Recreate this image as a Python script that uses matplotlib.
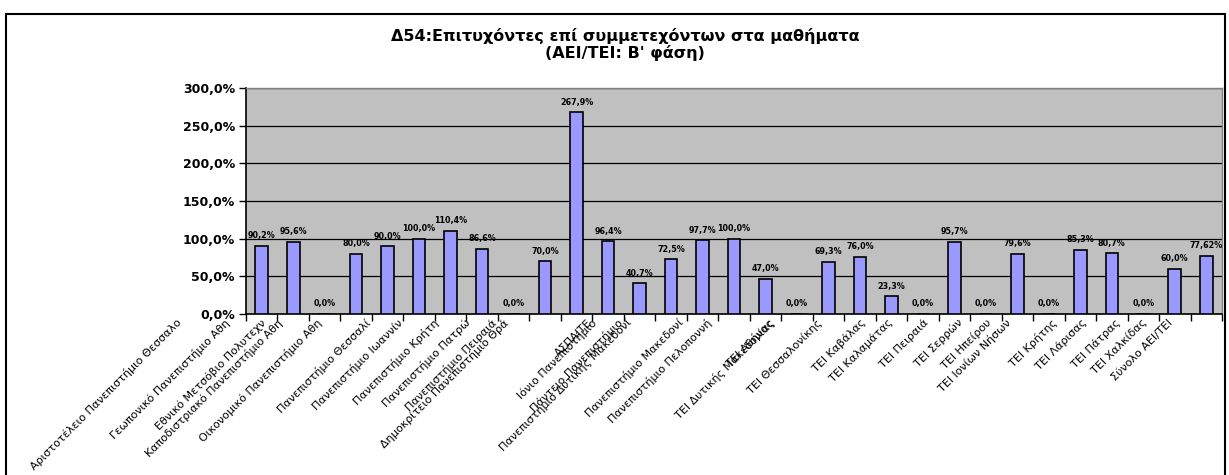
import matplotlib
matplotlib.use("Agg")
import matplotlib.pyplot as plt
import numpy as np
from matplotlib.patches import Rectangle
from matplotlib.ticker import FuncFormatter, MultipleLocator

# ιδρύματα (όπως φαίνονται στον άξονα)
categories = [
    "Αριστοτέλειο Πανεπιστήμιο Θεσσαλο",
    "Γεωπονικό Πανεπιστήμιο Αθη",
    "Εθνικό Μετσόβιο Πολυτεχν",
    "Καποδιστριακό Πανεπιστήμιο Αθη",
    "Οικονομικό Πανεπιστήμιο Αθη",
    "Πανεπιστήμιο Θεσσαλί",
    "Πανεπιστήμιο Ιωαννίν",
    "Πανεπιστήμιο Κρήτη",
    "Πανεπιστήμιο Πατρώ",
    "Πανεπιστήμιο Πειραιά",
    "Δημοκρίτειο Πανεπιστήμιο Θρά",
    "ΑΣΠΑΙΤΕ",
    "Ιόνιο Πανεπιστήμιο",
    "Πάντειο Πανεπιστήμιο",
    "Πανεπιστήμιο Δυτικής Μακεδονί",
    "Πανεπιστήμιο Μακεδονί",
    "Πανεπιστήμιο Πελοποννή",
    "ΤΕΙ Αθήνας",
    "ΤΕΙ Δυτικής Μακεδονίας",
    "ΤΕΙ Θεσσαλονίκης",
    "ΤΕΙ Καβάλας",
    "ΤΕΙ Καλαμάτας",
    "ΤΕΙ Πειραιά",
    "ΤΕΙ Σερρών",
    "ΤΕΙ Ηπείρου",
    "ΤΕΙ Ιονίων Νήσων",
    "ΤΕΙ Κρήτης",
    "ΤΕΙ Λάρισας",
    "ΤΕΙ Πάτρας",
    "ΤΕΙ Χαλκίδας",
    "Σύνολο ΑΕΙ/ΤΕΙ",
]

# επιτυχόντες / συμμετέχοντες (%)
values = [90.2, 95.6, 0.0, 80.0, 90.0, 100.0, 110.4, 86.6, 0.0, 70.0,
          267.9, 96.4, 40.7, 72.5, 97.7, 100.0, 47.0, 0.0, 69.3, 76.0,
          23.3, 0.0, 95.7, 0.0, 79.6, 0.0, 85.3, 80.7, 0.0, 60.0, 77.62]

title = "Δ54:Επιτυχόντες επί συμμετεχόντων στα μαθήματα\n(ΑΕΙ/ΤΕΙ: Β' φάση)"


def pct(v):
    s = f"{v:.1f}%" if round(v, 1) == v else f"{v:.2f}%"
    return s.replace(".", ",")


def main():
    plt.rcParams['font.family'] = ['DejaVu Sans']

    W, H = 1229, 475
    fig = plt.figure(figsize=(W / 100, H / 100), dpi=100)
    ax = fig.add_axes([246 / W, 1 - 314 / H, (1222 - 246) / W, (314 - 88) / H])

    x = np.arange(len(values))
    ax.set_facecolor('#C0C0C0')
    ax.set_axisbelow(True)
    ax.bar(x, values, width=0.4, color='#9999FF', edgecolor='black',
           linewidth=1.2, zorder=3)

    ax.set_xlim(-0.5, len(values) - 0.5)
    ax.set_ylim(0, 300)
    ax.yaxis.set_major_locator(MultipleLocator(50))
    ax.yaxis.set_major_formatter(FuncFormatter(lambda v, p: pct(v)))
    ax.grid(axis='y', color='black', linewidth=0.9)

    ax.set_xticks(np.arange(-0.5, len(values), 1))
    ax.set_xticklabels([])
    ax.tick_params(axis='x', length=5, width=1, color='black')
    ax.tick_params(axis='y', length=5, width=1, labelsize=9, pad=3)
    for lbl in ax.get_yticklabels():
        lbl.set_fontweight('bold')

    for s in ['left', 'bottom']:
        ax.spines[s].set_color('black')
        ax.spines[s].set_linewidth(1.2)
    for s in ['top', 'right']:
        ax.spines[s].set_color('#808080')
        ax.spines[s].set_linewidth(1)

    # ετικέτες τιμών
    for i, v in enumerate(values):
        ax.annotate(pct(v), (i, v), xytext=(0, 4), textcoords='offset points',
                    ha='center', va='bottom', fontsize=5.8, fontweight='bold',
                    zorder=5)

    # ετικέτες κατηγοριών, λοξές
    for i, name in enumerate(categories):
        ax.annotate(name, xy=(i, 0), xycoords=('data', 'axes fraction'),
                    xytext=(-2.5 * len(name) * 0.72, -7 * 0.72),
                    textcoords='offset points', rotation=45, ha='right',
                    va='center', rotation_mode='anchor', fontsize=8,
                    annotation_clip=False)

    fig.text(625 / W, 1 - 28 / H, title, ha='center', va='top', fontsize=11.5,
             fontweight='bold', linespacing=1.1)

    fig.add_artist(Rectangle((6 / W, -0.05), (1225 - 6) / W, 1.05 - 14 / H,
                             transform=fig.transFigure, fill=False,
                             edgecolor='black', linewidth=1.5))

    fig.savefig('out.png', dpi=100)


if __name__ == "__main__":
    main()
